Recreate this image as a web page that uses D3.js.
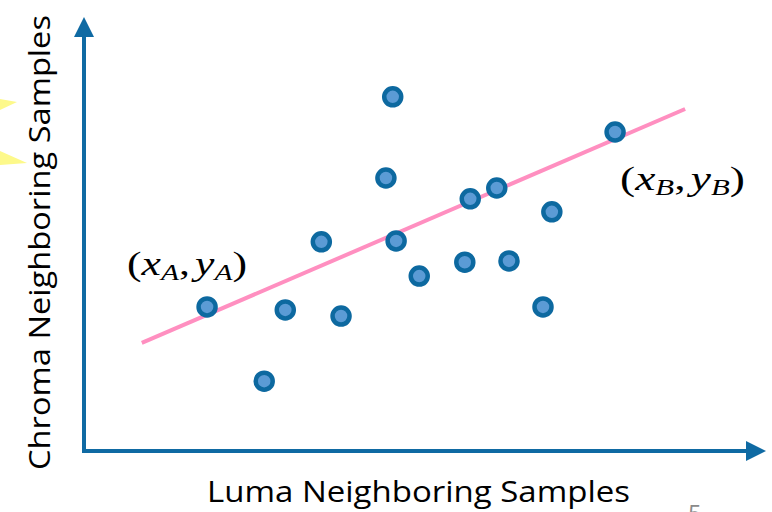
<!DOCTYPE html>
<html><head><meta charset="utf-8">
<script src="https://cdn.jsdelivr.net/npm/d3@7"></script>
<style>html,body{margin:0;padding:0;background:#fff;overflow:hidden}</style>
</head><body>
<svg id="chart" width="772" height="512"></svg>
<script>
// Data (arbitrary units 0-100)
const xValues = [18.1, 26.5, 29.6, 34.9, 37.8, 44.4, 45.4, 45.9, 49.3, 56.0, 56.8, 60.7, 62.5, 67.5, 68.8, 78.1];
const yValues = [33.2, 16.1, 32.5, 48.2, 31.1, 62.9, 81.6, 48.4, 40.3, 43.5, 58.1, 60.6, 43.8, 33.2, 55.1, 73.5];
const fitX = [8.5, 88.4];
const fitY = [24.9, 78.8];
const xTitle = "Luma Neighboring Samples";
const yTitle = "Chroma Neighboring Samples";
const pageNumber = "5";

const svg = d3.select("#chart");
const x = d3.scaleLinear().domain([0, 100]).range([84, 764]);
const y = d3.scaleLinear().domain([0, 100]).range([451, 17]);

const axisColor = "#0f6aa3";

// partial yellow callout at left edge
svg.append("path").attr("d", "M0,99 L17,102 L0,110 Z").attr("fill", "#fdf98a");
svg.append("path").attr("d", "M0,151 L27,163 L0,165 Z").attr("fill", "#fdf98a");

// axes
const defs = svg.append("defs");
defs.append("marker").attr("id", "arr").attr("viewBox", "0 0 10 10")
  .attr("refX", 0).attr("refY", 5).attr("markerWidth", 5).attr("markerHeight", 5)
  .attr("markerUnits", "strokeWidth").attr("orient", "auto")
  .append("path").attr("d", "M0,0 L10,5 L0,10 Z").attr("fill", axisColor);

svg.append("line")
  .attr("x1", x(0)).attr("y1", y(0) + 2).attr("x2", x(0)).attr("y2", y(100) + 20)
  .attr("stroke", axisColor).attr("stroke-width", 4).attr("marker-end", "url(#arr)");
svg.append("line")
  .attr("x1", x(0) - 2).attr("y1", y(0)).attr("x2", x(100) - 18).attr("y2", y(0))
  .attr("stroke", axisColor).attr("stroke-width", 4).attr("marker-end", "url(#arr)");

// fit line
svg.append("line")
  .attr("x1", x(fitX[0])).attr("y1", y(fitY[0]))
  .attr("x2", x(fitX[1])).attr("y2", y(fitY[1]))
  .attr("stroke", "#ff8fc0").attr("stroke-width", 4);

// points
const pts = xValues.map((v, i) => ({x: v, y: yValues[i]}));
svg.append("g").selectAll("circle").data(pts).join("circle")
  .attr("cx", d => x(d.x)).attr("cy", d => y(d.y)).attr("r", 8.5)
  .attr("fill", "#5b9bd5").attr("stroke", "#0d69a0").attr("stroke-width", 4.5);

// math labels
function mathLabel(px, py, sub, len) {
  const t = svg.append("text").attr("x", px).attr("y", py)
    .attr("font-family", "'Liberation Serif', 'DejaVu Serif', serif")
    .attr("font-size", 34).attr("fill", "#000")
    .attr("textLength", len).attr("lengthAdjust", "spacingAndGlyphs");
  t.append("tspan").text("(");
  t.append("tspan").attr("font-style", "italic").text("x");
  t.append("tspan").attr("font-style", "italic").attr("font-size", 23).attr("dy", 5).text(sub);
  t.append("tspan").attr("dy", -5).text(",");
  t.append("tspan").attr("font-style", "italic").attr("dx", 4).text("y");
  t.append("tspan").attr("font-style", "italic").attr("font-size", 23).attr("dy", 5).text(sub);
  t.append("tspan").attr("dy", -5).text(")");
  return t;
}
mathLabel(127, 275, "A", 120);
mathLabel(620, 190, "B", 125);

// axis titles
svg.append("text").attr("x", 207).attr("y", 502)
  .attr("font-family", "'Open Sans', Lato, sans-serif").attr("font-size", 29)
  .attr("textLength", 423).attr("lengthAdjust", "spacingAndGlyphs")
  .attr("fill", "#000").text(xTitle);
svg.append("text")
  .attr("transform", "translate(50,470) rotate(-90)")
  .attr("font-family", "'Open Sans', Lato, sans-serif").attr("font-size", 29)
  .attr("textLength", 455).attr("lengthAdjust", "spacingAndGlyphs")
  .attr("fill", "#000").text(yTitle);

// page number, partly cut off at the bottom edge as in the reference
svg.append("text").attr("x", 688).attr("y", 522)
  .attr("font-family", "'Open Sans', sans-serif").attr("font-size", 24)
  .attr("fill", "#8a8a8a").text(pageNumber);
</script>
</body></html>
